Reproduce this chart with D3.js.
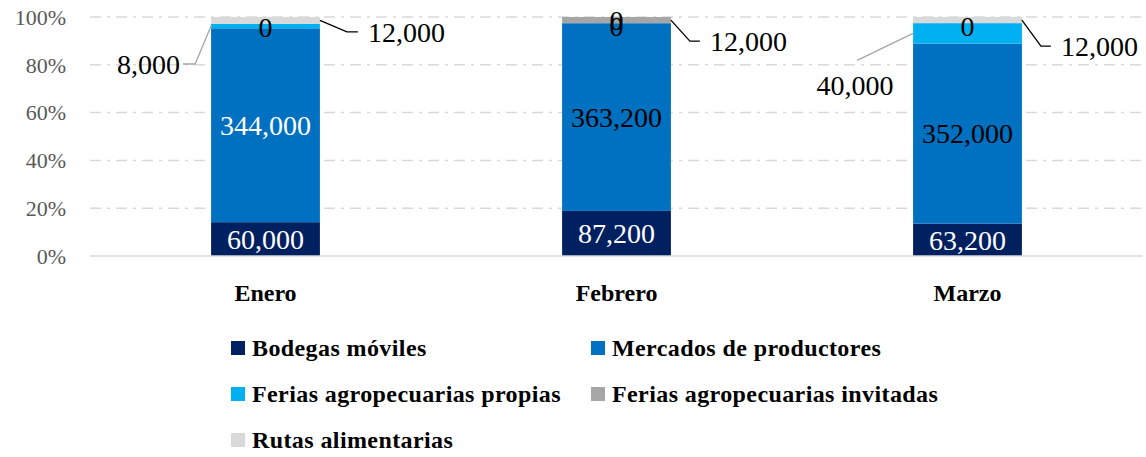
<!DOCTYPE html>
<html>
<head>
<meta charset="utf-8">
<script src="https://cdn.jsdelivr.net/npm/d3@7"></script>
<style>
  html, body { margin: 0; padding: 0; background: #fff; }
  svg { display: block; }
</style>
</head>
<body>
<svg id="chart" width="1146" height="457"></svg>
<script>
// ---- Data ----
const months = ["Enero", "Febrero", "Marzo"];
const seriesNames = ["Bodegas móviles", "Mercados de productores", "Ferias agropecuarias propias", "Ferias agropecuarias invitadas", "Rutas alimentarias"];
const bodegasMoviles = [60000, 87200, 63200];
const mercadosProductores = [344000, 363200, 352000];
const feriasPropias = [8000, 0, 40000];
const feriasInvitadas = [0, 12000, 0];
const rutasAlimentarias = [12000, 0, 12000];
const yTickValues = [0, 0.2, 0.4, 0.6, 0.8, 1.0];

// ---- Style ----
const colors = ["#002060", "#0070C0", "#00B0F0", "#A6A6A6", "#D9D9D9"];
const serif = "'Liberation Serif', 'Times New Roman', serif";

const seriesKeys = ["bodegas", "mercados", "propias", "invitadas", "rutas"];
const seriesArrays = [bodegasMoviles, mercadosProductores, feriasPropias, feriasInvitadas, rutasAlimentarias];
const table = months.map((m, i) => {
  const row = { month: m };
  seriesKeys.forEach((k, j) => row[k] = seriesArrays[j][i]);
  return row;
});

const svg = d3.select("#chart");
const margin = { left: 90, right: 3, top: 17, bottom: 201 };
const W = 1146, H = 457;
const x = d3.scaleBand().domain(months).range([margin.left, W - margin.right]).paddingInner(0.69).paddingOuter(0.345);
const y = d3.scaleLinear().domain([0, 1]).range([H - margin.bottom, margin.top]);

const stack = d3.stack().keys(seriesKeys).offset(d3.stackOffsetExpand);
const stacked = stack(table);

// gridlines
svg.append("g").selectAll("line").data(yTickValues.filter(v => v > 0)).join("line")
  .attr("x1", margin.left).attr("x2", W - margin.right)
  .attr("y1", d => y(d)).attr("y2", d => y(d))
  .attr("stroke", "#D9D9D9").attr("stroke-width", 1.5)
  .attr("stroke-dasharray", "11,6,3,6");

// y tick labels
svg.append("g").selectAll("text").data(yTickValues).join("text")
  .attr("x", 66).attr("y", d => y(d)).attr("dy", "0.35em")
  .attr("text-anchor", "end").attr("fill", "#595959")
  .attr("font-family", serif).attr("font-size", 22)
  .text(d => d3.format(".0%")(d));

// bars
const layers = svg.append("g").selectAll("g").data(stacked).join("g")
  .attr("fill", (d, i) => colors[i]);
layers.selectAll("rect").data(d => d).join("rect")
  .attr("x", d => x(d.data.month))
  .attr("width", x.bandwidth())
  .attr("y", d => y(d[1]))
  .attr("height", d => y(d[0]) - y(d[1]));

// baseline
svg.append("line")
  .attr("x1", margin.left).attr("x2", W - margin.right)
  .attr("y1", y(0)).attr("y2", y(0))
  .attr("stroke", "#D9D9D9").attr("stroke-width", 1.5);

// x labels
svg.append("g").selectAll("text").data(months).join("text")
  .attr("x", d => x(d) + x.bandwidth() / 2).attr("y", 293).attr("dy", "0.35em")
  .attr("text-anchor", "middle").attr("font-family", serif)
  .attr("font-weight", "bold").attr("font-size", 24).attr("fill", "#000")
  .text(d => d);

// data labels
const fmt = d3.format(",");
const labelSize = 28;
// inside-label colours per month (style)
const insideColor = { bodegas: ["#fff", "#fff", "#fff"], mercados: ["#fff", "#000", "#000"] };
// callout placements (style offsets relative to segment edge/middle)
const callouts = {
  "Enero|propias": { side: "left", ex: -16, ey: 38, hx: -12, tx: -3, ty: 0 },
  "Marzo|propias": { side: "left", ex: -56, ey: 27, hx: 0, tx: -2, ty: 25, anchor: "middle", gray: true },
  "Enero|rutas": { side: "right", ex: 27, ey: 11.5, hx: 11, tx: 10, ty: 0 },
  "Febrero|invitadas": { side: "right", ex: 19, ey: 21, hx: 10, tx: 10, ty: 0 },
  "Marzo|rutas": { side: "right", ex: 19, ey: 26, hx: 10, tx: 10, ty: 0 }
};

const labelG = svg.append("g").attr("font-family", serif).attr("font-size", labelSize);
stacked.forEach((layer, si) => {
  const key = seriesKeys[si];
  layer.forEach((d, mi) => {
    const month = d.data.month;
    const val = d.data[key];
    const cx = x(month) + x.bandwidth() / 2;
    const midY = y((d[0] + d[1]) / 2);
    const c = callouts[month + "|" + key];
    if (si < 2) {
      labelG.append("text").attr("x", cx).attr("y", midY).attr("dy", "0.35em")
        .attr("text-anchor", "middle").attr("fill", insideColor[key][mi])
        .text(fmt(val));
    } else if (c) {
      const left = c.side === "left";
      const sx = left ? x(month) : x(month) + x.bandwidth();
      const ex = sx + c.ex, ey = midY + c.ey;
      const hx = ex + c.hx;
      labelG.append("path")
        .attr("d", d3.line()([[sx, midY], [ex, ey], [hx, ey]]))
        .attr("fill", "none").attr("stroke", left ? "#A6A6A6" : "#000")
        .attr("stroke-width", 1.3);
      labelG.append("text").attr("x", hx + c.tx).attr("y", ey + c.ty).attr("dy", "0.35em")
        .attr("text-anchor", c.anchor || (left ? "end" : "start")).attr("fill", "#000")
        .text(fmt(val));
    } else {
      labelG.append("text").attr("x", cx).attr("y", midY + 3).attr("dy", "0.35em")
        .attr("text-anchor", "middle").attr("fill", "#000")
        .text(fmt(val));
    }
  });
});

// legend
const legendItems = [
  { i: 0, x: 231, y: 348 }, { i: 1, x: 591, y: 348 },
  { i: 2, x: 231, y: 394 }, { i: 3, x: 591, y: 394 },
  { i: 4, x: 231, y: 440 }
];
const lg = svg.append("g").selectAll("g").data(legendItems).join("g")
  .attr("transform", d => `translate(${d.x},${d.y})`);
lg.append("rect").attr("x", 0).attr("y", -7).attr("width", 14).attr("height", 14)
  .attr("fill", d => colors[d.i]);
lg.append("text").attr("x", 21).attr("y", 0).attr("dy", "0.35em")
  .attr("font-family", serif).attr("font-weight", "bold").attr("font-size", 24)
  .attr("letter-spacing", 0.4)
  .attr("fill", "#000").text(d => seriesNames[d.i]);
</script>
</body>
</html>
